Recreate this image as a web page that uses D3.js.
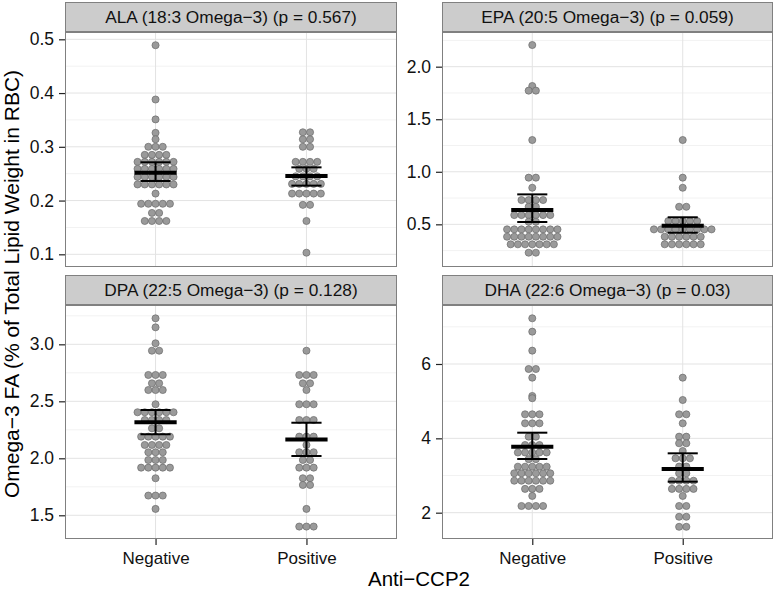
<!DOCTYPE html>
<html><head><meta charset="utf-8">
<script src="https://cdn.jsdelivr.net/npm/d3@7"></script>
<style>body{margin:0;background:#fff}svg{display:block;font-family:"Liberation Sans",Arial,sans-serif}</style>
</head><body><svg id="c" width="777" height="589"></svg>
<script>
// ---------- data ----------
const categories = ["Negative", "Positive"];
const panelTitles = [
  "ALA (18:3 Omega\u22123) (p = 0.567)",
  "EPA (20:5 Omega\u22123) (p = 0.059)",
  "DPA (22:5 Omega\u22123) (p = 0.128)",
  "DHA (22:6 Omega\u22123) (p = 0.03)"
];
const yDomains = [[0.0764, 0.5136], [0.094, 2.330], [1.292, 3.345], [1.292, 7.587]];
const yTicks = [[0.1, 0.2, 0.3, 0.4, 0.5], [0.5, 1.0, 1.5, 2.0], [1.5, 2.0, 2.5, 3.0], [2, 4, 6]];
const yMinor = [[0.15, 0.25, 0.35, 0.45], [0.25, 0.75, 1.25, 1.75, 2.25], [1.75, 2.25, 2.75, 3.25], [3, 5, 7]];
const yTickFormats = [".1f", ".1f", ".1f", "d"];

const alaNeg = [0.489, 0.388, 0.351, 0.326, 0.314, 0.300, 0.300, 0.300, 0.285, 0.285, 0.285, 0.285,
  0.272, 0.272, 0.272, 0.272, 0.272, 0.272, 0.259, 0.259, 0.259, 0.259, 0.259, 0.259,
  0.244, 0.244, 0.244, 0.244, 0.244, 0.244, 0.230, 0.230, 0.230, 0.230, 0.230, 0.230,
  0.213, 0.194, 0.194, 0.194, 0.194, 0.194, 0.177, 0.177, 0.162, 0.162, 0.162, 0.162];
const alaPos = [0.327, 0.327, 0.314, 0.314, 0.300, 0.300, 0.272, 0.272, 0.272, 0.272,
  0.259, 0.259, 0.259, 0.245, 0.245, 0.245, 0.245, 0.231, 0.231, 0.231, 0.231, 0.231,
  0.213, 0.213, 0.213, 0.213, 0.213, 0.192, 0.192, 0.162, 0.103];
const epaNeg = [2.206, 1.816, 1.772, 1.772, 1.302, 0.944, 0.944, 0.848, 0.731, 0.731, 0.731, 0.731,
  0.667, 0.667, 0.588, 0.588, 0.588, 0.588, 0.588, 0.588, 0.525, 0.525,
  0.452, 0.452, 0.452, 0.452, 0.452, 0.452, 0.452, 0.452, 0.382, 0.382, 0.382, 0.382, 0.382, 0.382, 0.382, 0.382,
  0.310, 0.310, 0.310, 0.310, 0.310, 0.310, 0.310, 0.230, 0.230];
const epaPos = [1.302, 0.944, 0.848, 0.667, 0.667, 0.531, 0.531, 0.531, 0.531, 0.531,
  0.452, 0.452, 0.452, 0.452, 0.452, 0.452, 0.452, 0.452, 0.452,
  0.382, 0.382, 0.382, 0.382, 0.382, 0.382, 0.310, 0.310, 0.310, 0.310, 0.310, 0.310];
const dpaNeg = [3.228, 3.149, 3.009, 2.944, 2.944, 2.731, 2.731, 2.731, 2.658, 2.658, 2.599, 2.599, 2.599,
  2.474, 2.404, 2.404, 2.404, 2.404, 2.404, 2.404, 2.336, 2.336, 2.336, 2.336, 2.263, 2.263,
  2.190, 2.190, 2.190, 2.190, 2.190, 2.117, 2.117, 2.117, 2.117, 2.053, 2.053, 2.053,
  1.985, 1.985, 1.985, 1.918, 1.918, 1.918, 1.918, 1.918, 1.825, 1.673, 1.673, 1.673, 1.556];
const dpaPos = [2.944, 2.731, 2.731, 2.731, 2.658, 2.658, 2.599, 2.474, 2.474, 2.474,
  2.336, 2.336, 2.336, 2.190, 2.190, 2.190, 2.117, 2.053, 2.053, 2.053, 1.985, 1.985,
  1.918, 1.918, 1.918, 1.825, 1.825, 1.766, 1.766, 1.556, 1.401, 1.401, 1.401];
const dhaNeg = [7.229, 6.870, 6.359, 5.865, 5.865, 5.632, 5.140, 5.080, 4.646, 4.646, 4.646,
  4.404, 4.404, 4.404, 4.045, 4.045, 3.820, 3.820, 3.820, 3.620, 3.620, 3.620, 3.620, 3.620,
  3.440, 3.440, 3.237, 3.237, 3.237, 3.237, 3.237, 3.060, 3.060, 3.060, 3.060, 3.060, 3.060,
  2.860, 2.860, 2.860, 2.860, 2.860, 2.860, 2.640, 2.640, 2.640, 2.450, 2.180, 2.180, 2.180, 2.180];
const dhaPos = [5.632, 5.031, 4.646, 4.646, 4.404, 4.045, 4.045, 3.867, 3.867, 3.660,
  3.463, 3.463, 3.463, 3.240, 3.240, 3.060, 3.060, 2.860, 2.860, 2.860, 2.860,
  2.640, 2.640, 2.640, 2.640, 2.450, 2.180, 2.180, 1.890, 1.890, 1.620, 1.620];

// mean and error bar limits [Negative, Positive]
const meanValues  = [[0.2518, 0.2457], [0.636, 0.487], [2.316, 2.166], [3.776, 3.175]];
const lowerValues = [[0.2364, 0.2278], [0.522, 0.420], [2.211, 2.020], [3.444, 2.834]];
const upperValues = [[0.2712, 0.2618], [0.785, 0.567], [2.424, 2.312], [4.152, 3.597]];

const seriesData = [[alaNeg, alaPos], [epaNeg, epaPos], [dpaNeg, dpaPos], [dhaNeg, dhaPos]];

// ---------- drawing ----------
const svg = d3.select("#c");
svg.append("rect").attr("width", 777).attr("height", 589).attr("fill", "#fff");

const colX = [[65, 397], [442, 773]];
const rowY = [{strip: 2, top: 32, bottom: 267}, {strip: 275, top: 305, bottom: 539}];
const dotD = 7.2;

panelTitles.forEach((title, i) => {
  const col = i % 2, row = Math.floor(i / 2);
  const [x0, x1] = colX[col];
  const R = rowY[row];
  const x = d3.scaleLinear().domain([0.4, 2.6]).range([x0, x1]);
  const y = d3.scaleLinear().domain(yDomains[i]).range([R.bottom, R.top]);
  const g = svg.append("g");

  // grid
  g.selectAll(".minor").data(yMinor[i].filter(v => v > yDomains[i][0] && v < yDomains[i][1]))
    .enter().append("line").attr("x1", x0).attr("x2", x1)
    .attr("y1", d => y(d)).attr("y2", d => y(d)).attr("stroke", "#f2f2f2").attr("stroke-width", 1);
  g.selectAll(".major").data(yTicks[i]).enter().append("line").attr("x1", x0).attr("x2", x1)
    .attr("y1", d => y(d)).attr("y2", d => y(d)).attr("stroke", "#e3e3e3").attr("stroke-width", 1);
  g.selectAll(".vmajor").data(categories).enter().append("line")
    .attr("x1", (d, k) => x(k + 1)).attr("x2", (d, k) => x(k + 1))
    .attr("y1", R.top).attr("y2", R.bottom).attr("stroke", "#e3e3e3").attr("stroke-width", 1);

  // dots
  categories.forEach((cat, k) => {
    const groups = d3.groups(seriesData[i][k], v => v);
    groups.forEach(([v, arr]) => {
      const n = arr.length;
      arr.forEach((_, j) => {
        g.append("circle")
          .attr("cx", x(k + 1) + (j - (n - 1) / 2) * dotD)
          .attr("cy", y(v))
          .attr("r", 3.55)
          .attr("fill", "#9a9a9a")
          .attr("stroke", "#6a6a6a")
          .attr("stroke-width", 0.7);
      });
    });
  });

  // error bars + mean
  categories.forEach((cat, k) => {
    const cx = k + 1;
    g.append("line").attr("x1", x(cx)).attr("x2", x(cx))
      .attr("y1", y(lowerValues[i][k])).attr("y2", y(upperValues[i][k]))
      .attr("stroke", "#000").attr("stroke-width", 2);
    [lowerValues[i][k], upperValues[i][k]].forEach(v => {
      g.append("line").attr("x1", x(cx - 0.1)).attr("x2", x(cx + 0.1))
        .attr("y1", y(v)).attr("y2", y(v)).attr("stroke", "#000").attr("stroke-width", 2);
    });
    g.append("line").attr("x1", x(cx - 0.14)).attr("x2", x(cx + 0.14))
      .attr("y1", y(meanValues[i][k])).attr("y2", y(meanValues[i][k]))
      .attr("stroke", "#000").attr("stroke-width", 4);
  });

  // panel border
  g.append("rect").attr("x", x0 + 0.5).attr("y", R.top + 0.5).attr("width", x1 - x0 - 1).attr("height", R.bottom - R.top - 1)
    .attr("fill", "none").attr("stroke", "#808080").attr("stroke-width", 1);

  // strip
  g.append("rect").attr("x", x0 + 0.5).attr("y", R.strip + 0.5).attr("width", x1 - x0 - 1).attr("height", R.top - R.strip - 1)
    .attr("fill", "#cccccc").attr("stroke", "#808080").attr("stroke-width", 1);
  g.append("text").attr("x", (x0 + x1) / 2).attr("y", (R.strip + R.top) / 2 + 6)
    .attr("text-anchor", "middle").attr("font-size", 17.3).attr("fill", "#111").text(title);

  // y axis
  const ya = d3.axisLeft(y).tickValues(yTicks[i]).tickFormat(d3.format(yTickFormats[i])).tickSize(6).tickPadding(5);
  const yg = g.append("g").attr("transform", `translate(${x0},0)`).call(ya);
  yg.select(".domain").remove();
  yg.selectAll(".tick line").attr("stroke", "#222").attr("stroke-width", 1.2);
  yg.selectAll(".tick text").attr("font-size", 17.5).attr("fill", "#111").attr("font-family", "Liberation Sans, Arial, sans-serif");

  // x axis (bottom row)
  if (row === 1) {
    const xa = d3.axisBottom(x).tickValues([1, 2]).tickFormat((d) => categories[d - 1]).tickSize(6).tickPadding(7);
    const xg = g.append("g").attr("transform", `translate(0,${R.bottom})`).call(xa);
    xg.select(".domain").remove();
    xg.selectAll(".tick line").attr("stroke", "#222").attr("stroke-width", 1.2);
    xg.selectAll(".tick text").attr("font-size", 17).attr("fill", "#111").attr("font-family", "Liberation Sans, Arial, sans-serif");
  }
});

// axis titles
svg.append("text").attr("x", 419).attr("y", 586).attr("text-anchor", "middle")
  .attr("font-size", 20.5).attr("fill", "#000").text("Anti\u2212CCP2");
svg.append("text").attr("transform", "translate(19,284) rotate(-90)").attr("text-anchor", "middle")
  .attr("font-size", 21).attr("fill", "#000").text("Omega\u22123 FA (% of Total Lipid Weight in RBC)");
</script></body></html>
